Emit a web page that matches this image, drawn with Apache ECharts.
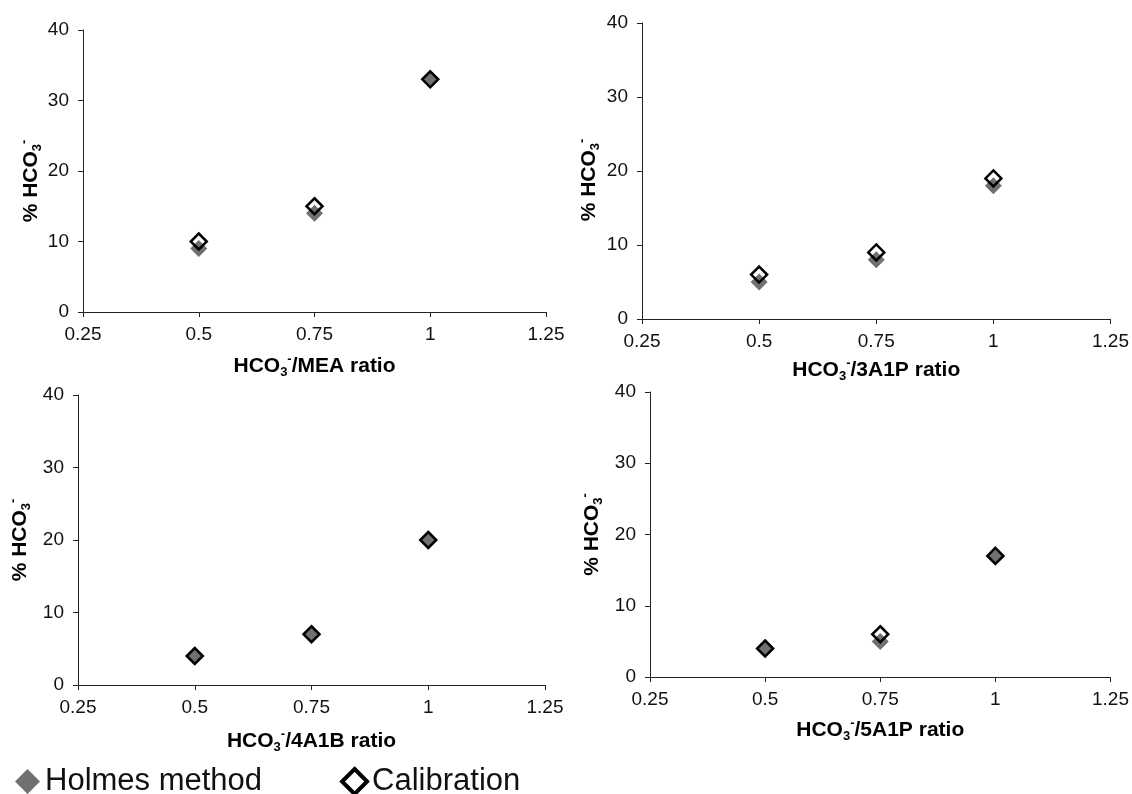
<!DOCTYPE html>
<html>
<head>
<meta charset="utf-8">
<script src="https://cdn.jsdelivr.net/npm/echarts@6/dist/echarts.min.js"></script>
<style>html,body{margin:0;padding:0;background:#fff;}#c{width:1132px;height:794px;}</style>
</head>
<body>
<div id="c"></div>
<script>
// Data
const ratios = [0.5, 0.75, 1];
const amines = ['MEA', '3A1P', '4A1B', '5A1P'];
const holmesMEA = [9, 14, 33];
const calibMEA = [10, 15, 33];
const holmes3A1P = [5, 8, 18];
const calib3A1P = [6, 9, 19];
const holmes4A1B = [4, 7, 20];
const calib4A1B = [4, 7, 20];
const holmes5A1P = [4, 5, 17];
const calib5A1P = [4, 6, 17];
const xTicks = [0.25, 0.5, 0.75, 1, 1.25];
const yTicks = [0, 10, 20, 30, 40];
const seriesNames = ['Holmes method', 'Calibration'];

const holmesAll = [holmesMEA, holmes3A1P, holmes4A1B, holmes5A1P];
const calibAll = [calibMEA, calib3A1P, calib4A1B, calib5A1P];

const FONT = "'Liberation Sans', Arial, sans-serif";
const grids = [
  {left: 83, right: 586, top: 30, bottom: 482},
  {left: 642, right: 20, top: 23, bottom: 475},
  {left: 78, right: 587, top: 395, bottom: 109},
  {left: 650, right: 19, top: 392, bottom: 117}
];
const xNameGaps = [41, 38, 43, 40];
const yNameGaps = [39, 40, 45, 45];
const yNameShift = [20, 18, 0, 0];

const richName = {
  b: {fontFamily: FONT, fontSize: 21, fontWeight: 'bold', color: '#000', lineHeight: 26},
  sub: {fontFamily: FONT, fontSize: 13, fontWeight: 'bold', color: '#000', verticalAlign: 'bottom', lineHeight: 13, padding: [10, 0, 0, 0]},
  sup: {fontFamily: FONT, fontSize: 13, fontWeight: 'bold', color: '#000', verticalAlign: 'top', lineHeight: 13, padding: [0, 0, 10, 0]}
};

const axisLine = {lineStyle: {color: '#222', width: 1}};
const xAxes = [], yAxes = [], series = [];
amines.forEach((a, i) => {
  xAxes.push({
    gridIndex: i, type: 'value', min: xTicks[0], max: xTicks[xTicks.length - 1], interval: 0.25,
    splitLine: {show: false}, axisLine: axisLine,
    axisTick: {show: true, length: 5, lineStyle: {color: '#222'}},
    axisLabel: {fontFamily: FONT, fontSize: 19, color: '#111', margin: 13,
      formatter: v => String(Number(v.toFixed(2)))},
    name: '{b|HCO}{sub|3}{sup|-}{b|/' + a + ' ratio}',
    nameLocation: 'middle', nameGap: xNameGaps[i],
    nameTextStyle: {rich: richName}
  });
  yAxes.push({
    gridIndex: i, type: 'value', min: yTicks[0], max: yTicks[yTicks.length - 1], interval: 10,
    splitLine: {show: false}, axisLine: {show: true, lineStyle: {color: '#222', width: 1}},
    axisTick: {show: true, length: 5, lineStyle: {color: '#222'}},
    axisLabel: {fontFamily: FONT, fontSize: 19, color: '#111', margin: 14},
    name: '{b|% HCO}{sub|3}{sup|-}',
    nameLocation: 'middle', nameGap: yNameGaps[i], nameRotate: 90,
    nameTextStyle: {rich: richName, padding: [0, yNameShift[i], 0, 0]}
  });
  series.push({
    name: seriesNames[0], type: 'scatter', xAxisIndex: i, yAxisIndex: i,
    symbol: 'diamond', symbolSize: 17,
    itemStyle: {color: '#707070', borderWidth: 0, opacity: 1},
    data: ratios.map((r, k) => [r, holmesAll[i][k]]), z: 2
  });
  series.push({
    name: seriesNames[1], type: 'scatter', xAxisIndex: i, yAxisIndex: i,
    symbol: 'diamond', symbolSize: 16,
    itemStyle: {color: 'rgba(255,255,255,0)', borderColor: '#000', borderWidth: 2.5, opacity: 1},
    data: ratios.map((r, k) => [r, calibAll[i][k]]), z: 3
  });
});

const chart = echarts.init(document.getElementById('c'), null, {renderer: 'canvas'});
chart.setOption({
  animation: false,
  backgroundColor: '#fff',
  grid: grids,
  xAxis: xAxes,
  yAxis: yAxes,
  legend: {
    data: [
      {name: seriesNames[0]},
      {name: seriesNames[1], itemStyle: {color: '#fff', borderColor: '#000', borderWidth: 4}}
    ],
    left: 10, top: 761, itemGap: 78, itemWidth: 25, itemHeight: 25,
    textStyle: {fontFamily: FONT, fontSize: 31, color: '#111'}
  },
  series: series
});
</script>
</body>
</html>
